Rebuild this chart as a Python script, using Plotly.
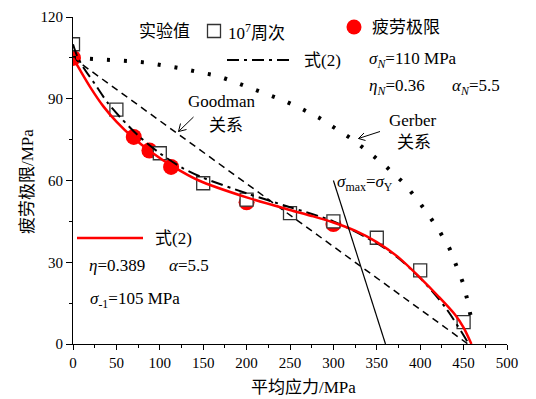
import plotly.graph_objects as go

# ---------------- data ----------------
square_x = [0, 50, 100, 150, 200, 250, 300, 350, 400, 450]          # 10^7 cycles tests
square_y = [110, 86, 70, 59, 53, 48, 45, 39, 27, 8]

limit_x = [0, 70, 88, 113, 200, 300]                                # fatigue limit points
limit_y = [105, 76, 71, 65, 52, 44]

eq2_x = [0, 8, 20, 35, 50, 70, 90, 115, 145, 200, 250, 275, 300, 325, 350, 375, 400, 420, 440, 450, 459]
eq2_y = [105, 100.6, 94.2, 87.2, 81.6, 75.5, 70.5, 65.2, 60, 53.8, 49.2, 47.0, 44.6, 41.6, 37.4,
         31.8, 24.3, 17.8, 10.8, 6.0, 0]

eq2n_x = [0, 5, 12, 25, 40, 55, 75, 100, 125, 150, 200, 250, 300, 350, 375, 400, 430, 456]
eq2n_y = [110, 105.5, 101.5, 95.5, 88.5, 83, 76.5, 70, 64.8, 61, 55.3, 50.2, 45, 37, 31.5, 24.2, 13, 0]

goodman_x = [0, 455]
goodman_y = [105, 0]

gerber_x = [0, 31, 67, 86.5, 108, 127, 146, 165.5, 185, 204, 225, 244, 263.5, 283, 300, 321,
            340, 360, 379, 396, 410, 423, 434, 442, 449, 454, 458]
gerber_y = [105, 104.6, 103.8, 103.2, 102.2, 101, 99.7, 98.5, 96.3, 94, 91.8, 89.2, 86.3, 83.1,
            79.6, 75.3, 70.6, 65.3, 59.7, 53.3, 47.2, 41, 34.9, 28.8, 22.7, 16.6, 10.5]

yield_x = [300, 360]
yield_y = [60, 0]

x_ticks = [0, 50, 100, 150, 200, 250, 300, 350, 400, 450, 500]
y_ticks = [0, 30, 60, 90, 120]

# ---------------- style ----------------
FONT = "Liberation Serif, Times New Roman, Noto Sans CJK SC"
W, H = 536, 399
OFF = 8                      # page body margin
L, R, T, B = 73, 507, 17, 344  # plot area in reference pixels


def px(x):
    return (x - L) / (R - L)


def py(y):
    return (B - y) / (B - T)


fig = go.Figure()

fig.add_trace(go.Scatter(x=limit_x, y=limit_y, mode="markers",
                         marker=dict(symbol="circle", size=16, color="#ff0000", line=dict(width=0))))
fig.add_trace(go.Scatter(x=square_x, y=square_y, mode="markers",
                         marker=dict(symbol="square", size=13, color="white",
                                     line=dict(color="#333333", width=1.3))))
fig.add_trace(go.Scatter(x=goodman_x, y=goodman_y, mode="lines",
                         line=dict(color="black", width=1.5, dash="7px,5px")))
fig.add_trace(go.Scatter(x=gerber_x, y=gerber_y, mode="lines",
                         line=dict(color="black", width=4, dash="3px,14px")))
fig.add_trace(go.Scatter(x=eq2n_x, y=eq2n_y, mode="lines", line_shape="spline",
                         line=dict(color="black", width=2, dash="12px,5px,3px,5px", smoothing=0.8)))
fig.add_trace(go.Scatter(x=eq2_x, y=eq2_y, mode="lines", line_shape="spline",
                         line=dict(color="#ff0000", width=2.5, smoothing=0.8)))
fig.add_trace(go.Scatter(x=yield_x, y=yield_y, mode="lines",
                         line=dict(color="black", width=1.2)))

annotations = []


def text(s, x, y, size=17, xanchor="left", angle=0):
    annotations.append(dict(text=s, x=px(x), y=py(y), xref="paper", yref="paper",
                            xanchor=xanchor, yanchor="middle", showarrow=False,
                            textangle=angle, font=dict(family=FONT, size=size, color="black")))


text("实验值", 137, 32)
text("10<sup>7</sup>周次", 226, 32)
text("疲劳极限", 370, 28)
text("式(2)", 302, 60)
text("<i>σ<sub>N</sub></i>=110 MPa", 367, 60)
text("<i>η<sub>N</sub></i>=0.36", 367, 87)
text("<i>α<sub>N</sub></i>=5.5", 450, 87)
text("Goodman", 186, 101)
text("关系", 207, 125)
text("Gerber", 387, 120)
text("关系", 395, 142)
text("<i>σ</i><sub>max</sub>=<i>σ</i><sub>Y</sub>", 335, 183)
text("式(2)", 153, 238)
text("<i>η</i>=0.389", 87, 265)
text("<i>α</i>=5.5", 167, 265)
text("<i>σ</i><sub>-1</sub>=105 MPa", 88, 300)
text("平均应力/MPa", 303, 387, xanchor="center")
text("疲劳极限/MPa", 27, 182, xanchor="center", angle=-90)

shapes = []


def seg(x0, y0, x1, y1, color="black", width=1, dash="solid"):
    shapes.append(dict(type="line", xref="paper", yref="paper",
                       x0=px(x0), y0=py(y0), x1=px(x1), y1=py(y1),
                       line=dict(color=color, width=width, dash=dash)))


# legend samples
shapes.append(dict(type="rect", xref="paper", yref="paper",
                   x0=px(207.5), x1=px(220.5), y0=py(37.5), y1=py(24.5),
                   line=dict(color="#333333", width=1.3), fillcolor="white"))
shapes.append(dict(type="circle", xref="paper", yref="paper",
                   x0=px(346.5), x1=px(361.5), y0=py(34.5), y1=py(19.5),
                   line=dict(width=0), fillcolor="#ff0000"))
seg(227, 60, 291, 60, width=2, dash="12px,5px,3px,5px")
seg(77, 238, 143, 238, color="#ff0000", width=2.5)

# arrows (open V heads)
seg(193.5, 117, 178.5, 131.5, width=1)
seg(178.5, 131.5, 180.5, 123.5, width=1)
seg(178.5, 131.5, 186.5, 129.5, width=1)
seg(380, 131.5, 358.5, 138.5, width=1)
seg(358.5, 138.5, 364, 133, width=1)
seg(358.5, 138.5, 365.5, 140.5, width=1)

fig.update_layout(
    width=W, height=H,
    margin=dict(l=L - OFF, r=W - (R - OFF), t=T - OFF, b=H - (B - OFF), autoexpand=False),
    paper_bgcolor="white", plot_bgcolor="white",
    showlegend=False,
    font=dict(family=FONT, size=14, color="black"),
    annotations=annotations, shapes=shapes,
    xaxis=dict(range=[0, 500], tickvals=x_ticks, ticks="outside", ticklen=5, tickwidth=1,
               tickcolor="black", showline=True, linecolor="black", linewidth=1,
               showgrid=False, zeroline=False, tickfont=dict(family=FONT, size=15),
               minor=dict(dtick=25, ticks="outside", ticklen=3, tickcolor="black", showgrid=False)),
    yaxis=dict(range=[0, 120], tickvals=y_ticks, ticks="outside", ticklen=6, tickwidth=1,
               tickcolor="black", showline=True, linecolor="black", linewidth=1,
               showgrid=False, zeroline=False, tickfont=dict(family=FONT, size=15),
               minor=dict(dtick=15, ticks="outside", ticklen=3, tickcolor="black", showgrid=False)),
)

fig.write_html("out.html")
